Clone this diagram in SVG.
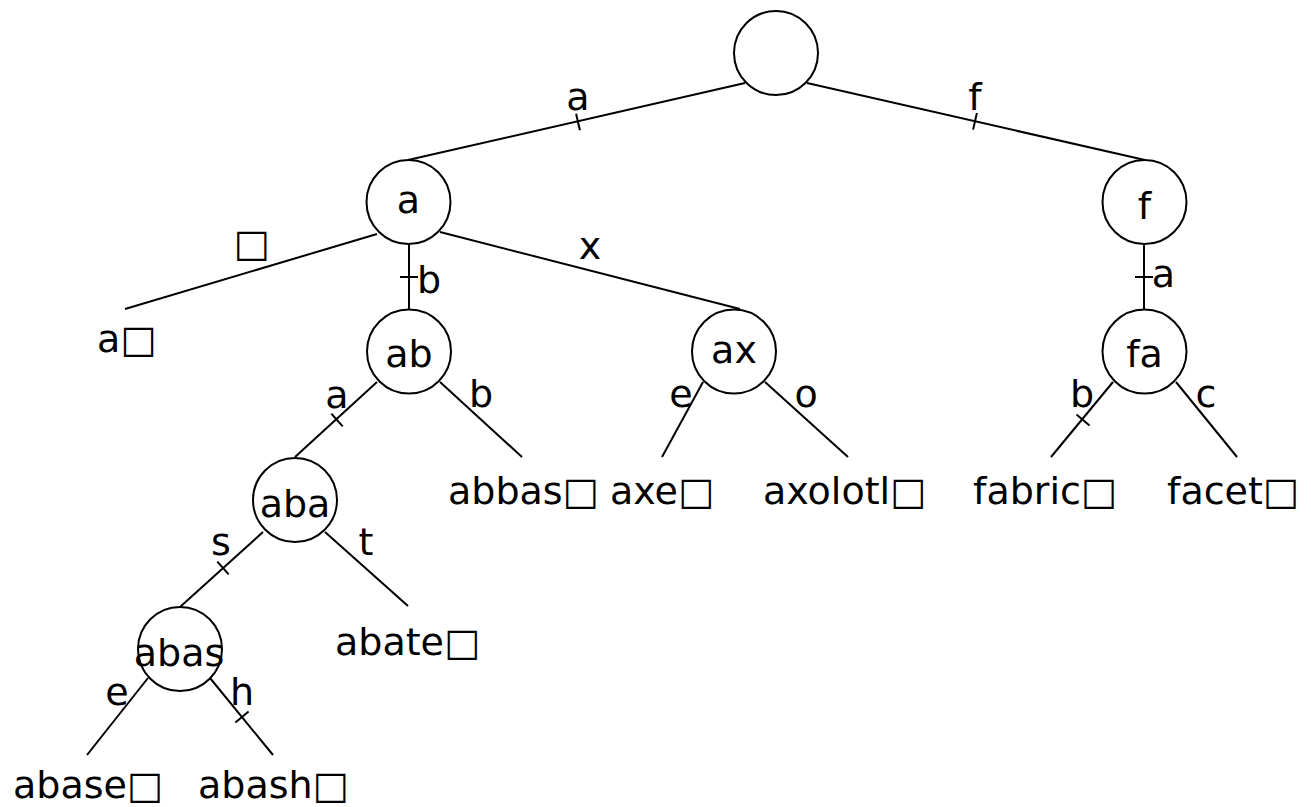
<svg xmlns="http://www.w3.org/2000/svg" width="1311" height="807" viewBox="0 0 1311 807">
<style>
text{font-family:"DejaVu Sans","Liberation Sans",sans-serif;font-size:38px;fill:#000}
.m{text-anchor:middle}
circle{fill:#fff;stroke:#000;stroke-width:2}
line{stroke:#000;stroke-width:2}
</style>
<rect width="1311" height="807" fill="#fff"/>
<g id="connectors">
<line x1="745" y1="83" x2="408" y2="160"/>
<line x1="807" y1="83" x2="1145" y2="160"/>
<line x1="377" y1="234" x2="125" y2="309"/>
<line x1="409" y1="244" x2="409" y2="309"/>
<line x1="440" y1="232" x2="740" y2="309"/>
<line x1="1144" y1="244" x2="1144" y2="309"/>
<line x1="377" y1="382" x2="295" y2="457"/>
<line x1="440" y1="382" x2="522" y2="457"/>
<line x1="703" y1="382" x2="662" y2="457"/>
<line x1="765" y1="382" x2="848" y2="457"/>
<line x1="1113" y1="382" x2="1051" y2="457"/>
<line x1="1176" y1="382" x2="1237" y2="457"/>
<line x1="263" y1="532" x2="180" y2="607"/>
<line x1="325" y1="532" x2="408" y2="606"/>
<line x1="148" y1="678" x2="87" y2="755"/>
<line x1="210" y1="678" x2="273" y2="755"/>
<!-- ticks -->
<line x1="576.1" y1="113.7" x2="579.9" y2="130.3"/>
<line x1="976.9" y1="113" x2="973.1" y2="129.6"/>
<line x1="400" y1="277" x2="418" y2="277"/>
<line x1="1135" y1="277" x2="1153" y2="277"/>
<line x1="331.3" y1="413.7" x2="342.7" y2="426.3"/>
<line x1="1076.5" y1="414.6" x2="1089.5" y2="425.4"/>
<line x1="217.3" y1="561.7" x2="228.7" y2="574.3"/>
<line x1="235.4" y1="722.4" x2="248.6" y2="711.6"/>
<!-- edge labels -->
<text class="m" x="578" y="110">a</text>
<text class="m" x="975" y="110">f</text>
<text class="m" x="251.5" y="256">□</text>
<text class="m" x="429" y="293">b</text>
<text class="m" x="590" y="259">x</text>
<text class="m" x="1163.5" y="287">a</text>
<text class="m" x="337" y="408">a</text>
<text class="m" x="481" y="407">b</text>
<text class="m" x="681" y="407">e</text>
<text class="m" x="806" y="407">o</text>
<text class="m" x="1082" y="407">b</text>
<text class="m" x="1206" y="407">c</text>
<text class="m" x="221" y="555">s</text>
<text class="m" x="366" y="555">t</text>
<text class="m" x="117" y="705">e</text>
<text class="m" x="242" y="705">h</text>
</g>
<g id="root"><circle cx="776" cy="53" r="42"/></g>
<g id="n-a"><circle cx="408.5" cy="202" r="42"/><text class="m" x="408.5" y="213">a</text></g>
<g id="n-f"><circle cx="1144.5" cy="202" r="42"/><text class="m" x="1144.5" y="219">f</text></g>
<g id="n-ab"><circle cx="409" cy="351.5" r="42"/><text class="m" x="409" y="367">ab</text></g>
<g id="n-ax"><circle cx="734" cy="351.5" r="42"/><text class="m" x="734" y="363">ax</text></g>
<g id="n-fa"><circle cx="1144.5" cy="351.5" r="42"/><text class="m" x="1144.5" y="367">fa</text></g>
<g id="n-aba"><circle cx="295" cy="500" r="42"/><text class="m" x="295" y="517">aba</text></g>
<g id="n-abas"><circle cx="180" cy="649" r="42"/><text class="m" x="179" y="666">abas</text></g>
<g id="leaf-a"><text x="97" y="352">a□</text></g>
<g id="leaf-abbas"><text x="448" y="504">abbas□</text></g>
<g id="leaf-axe"><text x="610" y="504">axe□</text></g>
<g id="leaf-axolotl"><text x="763" y="504">axolotl□</text></g>
<g id="leaf-fabric"><text x="973" y="504">fabric□</text></g>
<g id="leaf-facet"><text x="1167" y="504">facet□</text></g>
<g id="leaf-abate"><text x="335" y="655">abate□</text></g>
<g id="leaf-abase"><text x="13" y="798">abase□</text></g>
<g id="leaf-abash"><text x="198" y="798">abash□</text></g>
</svg>
